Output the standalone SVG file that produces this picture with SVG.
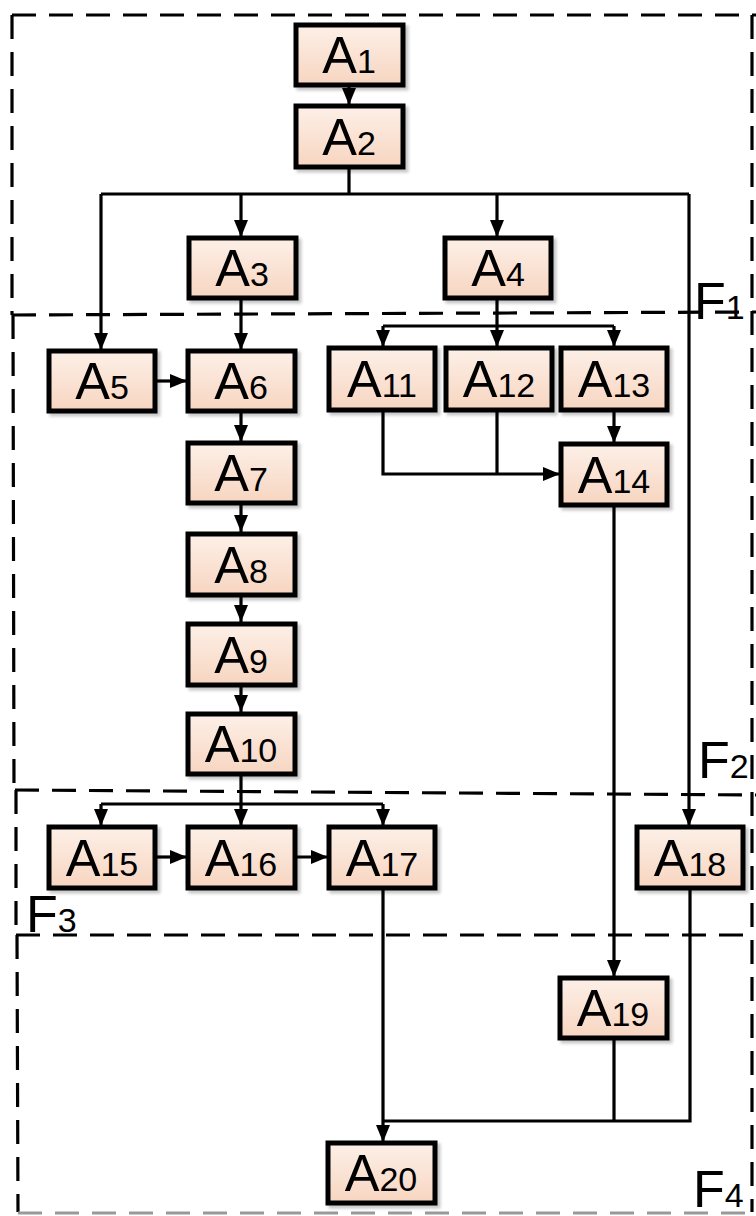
<svg xmlns="http://www.w3.org/2000/svg" width="756" height="1216" viewBox="0 0 756 1216">
<defs>
<linearGradient id="g" x1="0" y1="0" x2="0" y2="1">
<stop offset="0" stop-color="#fdf0e8"/>
<stop offset="1" stop-color="#f7d5c0"/>
</linearGradient>
<filter id="sh" x="-10%" y="-10%" width="130%" height="130%">
<feDropShadow dx="3" dy="3" stdDeviation="1.5" flood-color="#000" flood-opacity="0.22"/>
</filter>
<marker id="ar" markerUnits="userSpaceOnUse" markerWidth="18" markerHeight="18" viewBox="0 0 18 18" refX="17" refY="9" orient="auto">
<path d="M0,2 L17,9 L0,16 Z" fill="#000"/>
</marker>
</defs>
<style>
.b rect{fill:url(#g);stroke:#000;stroke-width:5;filter:url(#sh)}
.b text,.f{font-family:"Liberation Sans",Arial,sans-serif;font-size:52px;fill:#000}
.b text{text-anchor:middle}
.s{font-size:34px}
.c path{fill:none;stroke:#000;stroke-width:3.2}
.c .a{marker-end:url(#ar)}
.d line{stroke:#000;stroke-width:3.2;stroke-dasharray:24 13;fill:none}
.d .gr{stroke:#999}
</style>
<g class="d" id="frames">
<line x1="12" y1="15" x2="756" y2="15"/>
<line x1="12" y1="15" x2="12" y2="315"/>
<line x1="752" y1="15" x2="752" y2="1212"/>
<line x1="12" y1="315" x2="756" y2="312"/>
<line x1="13" y1="315" x2="14" y2="790"/>
<line x1="15" y1="790" x2="756" y2="795"/>
<line x1="16" y1="790" x2="16" y2="935"/>
<line x1="16" y1="935" x2="756" y2="935"/>
<line x1="17" y1="935" x2="18" y2="1212"/>
<line class="gr" x1="18" y1="1213" x2="752" y2="1213"/>
</g>
<g class="c" id="connectors">
<path class="a" d="M349,85 V105"/>
<path d="M349,167 V194 M101,194 H689"/>
<path class="a" d="M101,194 V350"/>
<path class="a" d="M241,194 V237"/>
<path class="a" d="M497,194 V237"/>
<path class="a" d="M689,194 V826"/>
<path class="a" d="M241,298 V350"/>
<path class="a" d="M155,381 H187"/>
<path d="M497,298 V326 M383,326 H614"/>
<path class="a" d="M383,326 V347"/>
<path class="a" d="M497,326 V347"/>
<path class="a" d="M614,326 V347"/>
<path class="a" d="M614,410 V443"/>
<path class="a" d="M383,410 V474 H560"/>
<path d="M497,410 V474"/>
<path class="a" d="M614,505 V977"/>
<path class="a" d="M241,411 V442"/>
<path class="a" d="M241,503 V532"/>
<path class="a" d="M241,595 V622"/>
<path class="a" d="M241,685 V712"/>
<path d="M241,774 V804 M101,804 H383"/>
<path class="a" d="M101,804 V826"/>
<path class="a" d="M241,804 V826"/>
<path class="a" d="M383,804 V826"/>
<path class="a" d="M155,857 H187"/>
<path class="a" d="M295,857 H328"/>
<path class="a" d="M383,888 V1142"/>
<path d="M690,888 V1121 H383 M614,1038 V1121"/>
</g>
<g class="b" id="A1"><rect x="296" y="25" width="107" height="60"/><text x="349" y="73">A<tspan class="s">1</tspan></text></g>
<g class="b" id="A2"><rect x="296" y="106" width="107" height="61"/><text x="349" y="155">A<tspan class="s">2</tspan></text></g>
<g class="b" id="A3"><rect x="189" y="238" width="107" height="60"/><text x="242" y="286">A<tspan class="s">3</tspan></text></g>
<g class="b" id="A4"><rect x="445" y="238" width="106" height="60"/><text x="498" y="286">A<tspan class="s">4</tspan></text></g>
<g class="b" id="A5"><rect x="49" y="351" width="106" height="60"/><text x="102" y="399">A<tspan class="s">5</tspan></text></g>
<g class="b" id="A6"><rect x="188" y="351" width="107" height="60"/><text x="241" y="399">A<tspan class="s">6</tspan></text></g>
<g class="b" id="A7"><rect x="188" y="443" width="107" height="60"/><text x="241" y="491">A<tspan class="s">7</tspan></text></g>
<g class="b" id="A8"><rect x="188" y="534" width="107" height="61"/><text x="241" y="583">A<tspan class="s">8</tspan></text></g>
<g class="b" id="A9"><rect x="188" y="624" width="107" height="61"/><text x="241" y="673">A<tspan class="s">9</tspan></text></g>
<g class="b" id="A10"><rect x="188" y="714" width="107" height="60"/><text x="241" y="762">A<tspan class="s">10</tspan></text></g>
<g class="b" id="A11"><rect x="329" y="348" width="106" height="62"/><text x="382" y="397">A<tspan class="s">11</tspan></text></g>
<g class="b" id="A12"><rect x="446" y="348" width="106" height="62"/><text x="499" y="397">A<tspan class="s">12</tspan></text></g>
<g class="b" id="A13"><rect x="561" y="348" width="106" height="62"/><text x="614" y="397">A<tspan class="s">13</tspan></text></g>
<g class="b" id="A14"><rect x="561" y="444" width="106" height="61"/><text x="614" y="493">A<tspan class="s">14</tspan></text></g>
<g class="b" id="A15"><rect x="49" y="827" width="106" height="61"/><text x="102" y="876">A<tspan class="s">15</tspan></text></g>
<g class="b" id="A16"><rect x="188" y="827" width="107" height="61"/><text x="241" y="876">A<tspan class="s">16</tspan></text></g>
<g class="b" id="A17"><rect x="329" y="827" width="106" height="61"/><text x="382" y="876">A<tspan class="s">17</tspan></text></g>
<g class="b" id="A18"><rect x="637" y="827" width="106" height="61"/><text x="690" y="876">A<tspan class="s">18</tspan></text></g>
<g class="b" id="A19"><rect x="560" y="978" width="107" height="60"/><text x="613" y="1026">A<tspan class="s">19</tspan></text></g>
<g class="b" id="A20"><rect x="328" y="1143" width="107" height="60"/><text x="381" y="1191">A<tspan class="s">20</tspan></text></g>
<g id="labels">
<text class="f" x="694" y="319">F<tspan class="s">1</tspan></text>
<text class="f" x="698" y="778">F<tspan class="s">2</tspan></text>
<text class="f" x="26" y="932">F<tspan class="s">3</tspan></text>
<text class="f" x="693" y="1207">F<tspan class="s">4</tspan></text>
</g>
</svg>
